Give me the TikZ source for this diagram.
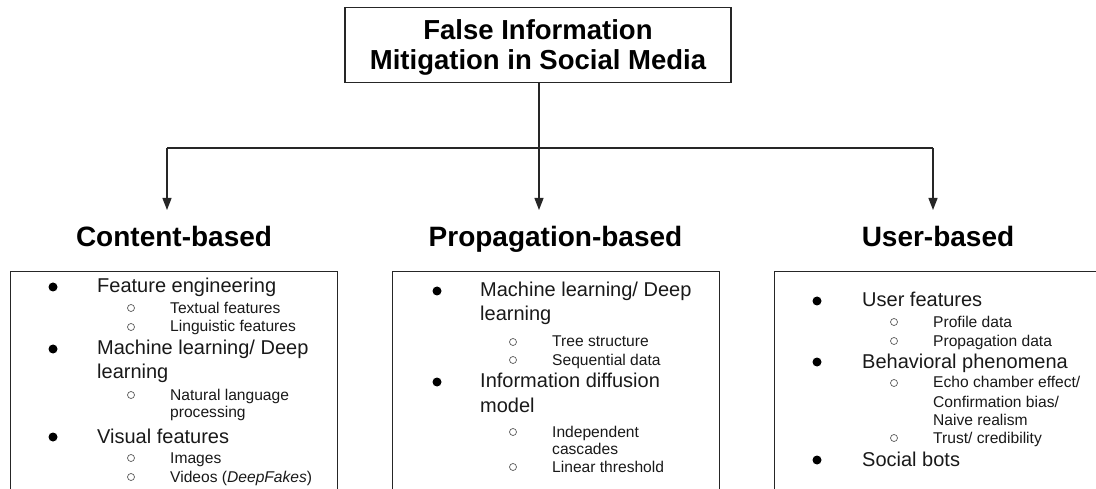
\documentclass[tikz,border=0pt]{standalone}
\usepackage{fontspec}
\setmainfont{Liberation Sans}
\usetikzlibrary{arrows.meta}

\tikzset{
  frame/.style={draw=black!85, line width=1.4pt, inner sep=0pt},
  title/.style={font=\fontsize{27.5}{30}\selectfont\bfseries, anchor=base, inner sep=0pt},
  head/.style={font=\fontsize{28}{30}\selectfont\bfseries, anchor=base, inner sep=0pt},
  lvlone/.style={font=\fontsize{20}{23}\selectfont, anchor=base west, inner sep=0pt, text=black!90},
  lvltwo/.style={font=\fontsize{15.6}{18}\selectfont, anchor=base west, inner sep=0pt, text=black!90},
  dot/.style={circle, fill=black, inner sep=0pt, minimum size=9pt},
  ring/.style={circle, draw=black!65, line width=0.7pt, inner sep=0pt, minimum size=7pt},
  link/.style={draw=black!85, line width=1.3pt},
  arrow/.style={link, -{Triangle[width=9pt,length=12pt]}},
}

\begin{document}
\begin{tikzpicture}[x=1pt, y=-1pt]
\useasboundingbox (0,0) rectangle (1096,489);
\clip (0,0) rectangle (1096,489);

% root
\node[frame, minimum width=386pt, minimum height=75pt, anchor=north] (root) at (538,7) {};
\node[title] (rootA) at (538,40) {False Information};
\node[title] (rootB) at (538,70) {Mitigation in Social Media};

% category headings
\node[head] (hc) at (174,247) {Content-based};
\node[head] (hp) at (555.5,247) {Propagation-based};
\node[head] (hu) at (938,247) {User-based};

% connectors
\coordinate (jl) at (167,148);
\coordinate (jm) at (539,148);
\coordinate (jr) at (933,148);
\coordinate (al) at (167,210);
\coordinate (am) at (539,210);
\coordinate (ar) at (933,210);
\draw[link] (jl) -- (jr);
\draw[arrow] (root.south -| jm) -- (am);
\draw[arrow] (jl) -- (al);
\draw[arrow] (jr) -- (ar);

% boxes (open at the bottom edge of the page)
\node[frame, minimum width=327pt, minimum height=240pt, anchor=north west] (bc) at (10,271) {};
\node[frame, minimum width=327pt, minimum height=240pt, anchor=north west] (bp) at (392,271) {};
\node[frame, minimum width=327pt, minimum height=240pt, anchor=north west] (bu) at (774,271) {};

% Content-based list
\node[dot] (c1d) at (53,287) {};
\node[lvlone] (c1) at (97,293) {Feature engineering};
\node[ring] (c1ar) at (131,308) {};
\node[lvltwo] (c1a) at (170,313) {Textual features};
\node[ring] (c1br) at (131,327) {};
\node[lvltwo] (c1b) at (170,332) {Linguistic features};
\node[dot] (c2d) at (53,349) {};
\node[lvlone] (c2) at (97,355) {Machine learning/ Deep};
\node[lvlone] (c2x) at (97,378) {learning};
\node[ring] (c2ar) at (131,395) {};
\node[lvltwo] (c2a) at (170,400) {Natural language};
\node[lvltwo] (c2ax) at (170,417) {processing};
\node[dot] (c3d) at (53,437) {};
\node[lvlone] (c3) at (97,443) {Visual features};
\node[ring] (c3ar) at (131,458) {};
\node[lvltwo] (c3a) at (170,463) {Images};
\node[ring] (c3br) at (131,477) {};
\node[lvltwo] (c3b) at (170,482) {Videos (\textit{DeepFakes})};

% Propagation-based list
\node[dot] (p1d) at (437,291) {};
\node[lvlone] (p1) at (480,297) {Machine learning/ Deep};
\node[lvlone] (p1x) at (480,320) {learning};
\node[ring] (p1ar) at (513,342) {};
\node[lvltwo] (p1a) at (552,347) {Tree structure};
\node[ring] (p1br) at (513,360) {};
\node[lvltwo] (p1b) at (552,365) {Sequential data};
\node[dot] (p2d) at (437,382) {};
\node[lvlone] (p2) at (480,388) {Information diffusion};
\node[lvlone] (p2x) at (480,412) {model};
\node[ring] (p2ar) at (513,432) {};
\node[lvltwo] (p2a) at (552,437) {Independent};
\node[lvltwo] (p2ax) at (552,454) {cascades};
\node[ring] (p2br) at (513,467) {};
\node[lvltwo] (p2b) at (552,472) {Linear threshold};

% User-based list
\node[dot] (u1d) at (817,301) {};
\node[lvlone] (u1) at (862,307) {User features};
\node[ring] (u1ar) at (894,322) {};
\node[lvltwo] (u1a) at (933,327) {Profile data};
\node[ring] (u1br) at (894,341) {};
\node[lvltwo] (u1b) at (933,346) {Propagation data};
\node[dot] (u2d) at (817,362) {};
\node[lvlone] (u2) at (862,368) {Behavioral phenomena};
\node[ring] (u2ar) at (894,383) {};
\node[lvltwo] (u2a) at (933,388) {Echo chamber effect/};
\node[lvltwo] (u2ax) at (933,407) {Confirmation bias/};
\node[lvltwo] (u2ay) at (933,425) {Naive realism};
\node[ring] (u2br) at (894,438) {};
\node[lvltwo] (u2b) at (933,443) {Trust/ credibility};
\node[dot] (u3d) at (817,460) {};
\node[lvlone] (u3) at (862,466) {Social bots};
\end{tikzpicture}
\end{document}
